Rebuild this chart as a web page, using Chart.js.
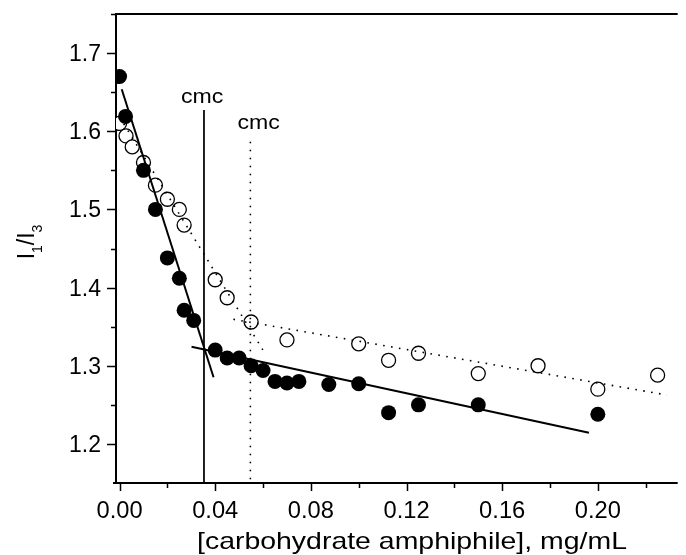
<!DOCTYPE html>
<html>
<head>
<meta charset="utf-8">
<title>I1/I3 vs carbohydrate amphiphile</title>
<script src="https://cdn.jsdelivr.net/npm/chart.js@4.4.0/dist/chart.umd.min.js"></script>
<style>
  html, body { margin: 0; padding: 0; background: #ffffff; }
  canvas { display: block; }
</style>
</head>
<body>
<canvas id="chart" width="686" height="555"></canvas>
<script>
// Pyrene I1/I3 ratio vs concentration (mg/mL)
const filledX = [0, 0.0025, 0.01, 0.015, 0.02, 0.025, 0.027, 0.031, 0.04, 0.045, 0.05, 0.055, 0.06,
                 0.065, 0.07, 0.075, 0.0875, 0.1, 0.1125, 0.125, 0.15, 0.2];
const filledY = [1.670, 1.619, 1.550, 1.500, 1.438, 1.412, 1.371, 1.358, 1.320, 1.310, 1.310, 1.300, 1.294,
                 1.280, 1.278, 1.280, 1.276, 1.277, 1.240, 1.250, 1.250, 1.238];

const openX = [0, 0.0027, 0.0053, 0.01, 0.015, 0.02, 0.025, 0.027, 0.04, 0.045, 0.055, 0.07,
               0.1, 0.1125, 0.125, 0.15, 0.175, 0.2, 0.225];
const openY = [1.610, 1.594, 1.580, 1.560, 1.531, 1.513, 1.500, 1.480, 1.410, 1.387, 1.356, 1.333,
               1.328, 1.307, 1.316, 1.290, 1.300, 1.270, 1.288];

// fitted straight lines (end points)
const filledSteepX = [0.0009, 0.0393];
const filledSteepY = [1.6537, 1.2852];
const filledFlatX = [0.0301, 0.1963];
const filledFlatY = [1.3244, 1.2143];
const openSteepX = [0, 0.0599];
const openSteepY = [1.6183, 1.3204];
const openFlatX = [0.0476, 0.2289];
const openFlatY = [1.3594, 1.2626];

// cmc markers
const cmcX = [0.0353, 0.0547];
const cmcTop = [1.6272, 1.5866];
const cmcLabelX = [0.0345, 0.0582];
const cmcLabelY = [1.6361, 1.6029];

// axes
const xMin = -0.00107, xMax = 0.2334;
const yMin = 1.15, yMax = 1.75;
const xTickValues = [0, 0.04, 0.08, 0.12, 0.16, 0.20];
const xTickLabels = ['0.00', '0.04', '0.08', '0.12', '0.16', '0.20'];
const xMinorValues = [0.02, 0.06, 0.10, 0.14, 0.18, 0.22];
const yTickValues = [1.2, 1.3, 1.4, 1.5, 1.6, 1.7];
const yTickLabels = ['1.2', '1.3', '1.4', '1.5', '1.6', '1.7'];
const yMinorValues = [1.25, 1.35, 1.45, 1.55, 1.65, 1.75];

const FONT = '"Liberation Sans", Arial, sans-serif';

function pts(xs, ys) {
    return xs.map((x, i) => ({ x: x, y: ys[i] }));
}

function lineSet(xs, ys, width, dash) {
    return {
        type: 'scatter',
        data: pts(xs, ys),
        showLine: true,
        borderColor: '#000',
        borderWidth: width,
        borderDash: dash || [],
        borderCapStyle: 'butt',
        pointRadius: 0,
        order: 0
    };
}

function stretchedText(ctx, str, x, y, align, sx) {
    ctx.save();
    ctx.translate(x, y);
    ctx.scale(sx, 1);
    ctx.textAlign = align;
    ctx.fillText(str, 0, 0);
    ctx.restore();
}

// axes, frame and ticks drawn under the markers
const framePlugin = {
    id: 'frame',
    beforeDatasetsDraw(chart) {
        const ctx = chart.ctx;
        const a = chart.chartArea;
        const xs = chart.scales.x, ys = chart.scales.y;
        ctx.save();
        ctx.strokeStyle = '#000';
        ctx.lineWidth = 2;
        ctx.beginPath();
        ctx.moveTo(a.left - 1, a.top - 1);
        ctx.lineTo(a.left - 1, a.bottom);
        ctx.moveTo(a.left - 4, a.bottom);
        ctx.lineTo(a.right, a.bottom);
        ctx.moveTo(a.left - 2, a.top);
        ctx.lineTo(a.right, a.top);
        ctx.stroke();

        ctx.lineWidth = 1.5;
        ctx.beginPath();
        xTickValues.forEach(v => {
            const px = Math.round(xs.getPixelForValue(v)) + 0.5;
            ctx.moveTo(px, a.bottom);
            ctx.lineTo(px, a.bottom + 8);
        });
        xMinorValues.forEach(v => {
            const px = Math.round(xs.getPixelForValue(v)) + 0.5;
            ctx.moveTo(px, a.bottom);
            ctx.lineTo(px, a.bottom + 5);
        });
        yTickValues.forEach(v => {
            const py = Math.round(ys.getPixelForValue(v)) + 0.5;
            ctx.moveTo(a.left - 1, py);
            ctx.lineTo(a.left - 10, py);
        });
        yMinorValues.forEach(v => {
            const py = Math.round(ys.getPixelForValue(v)) + 0.5;
            ctx.moveTo(a.left - 1, py);
            ctx.lineTo(a.left - 6, py);
        });
        ctx.stroke();
        ctx.restore();
    },
    afterDraw(chart) {
        const ctx = chart.ctx;
        const a = chart.chartArea;
        const xs = chart.scales.x, ys = chart.scales.y;
        ctx.save();
        ctx.fillStyle = '#000';
        ctx.textBaseline = 'alphabetic';

        // tick labels
        ctx.font = '23px ' + FONT;
        xTickValues.forEach((v, i) => {
            stretchedText(ctx, xTickLabels[i], xs.getPixelForValue(v), a.bottom + 35, 'center', 1.03);
        });
        yTickValues.forEach((v, i) => {
            stretchedText(ctx, yTickLabels[i], a.left - 16, ys.getPixelForValue(v) + 8, 'right', 1.0);
        });

        // x title
        ctx.font = '24px ' + FONT;
        stretchedText(ctx, '[carbohydrate amphiphile], mg/mL', 412, 549, 'center', 1.185);

        // y title I1/I3 with subscripts
        const parts = [['I', 0], ['1', 1], ['/', 0], ['I', 0], ['3', 1]];
        const big = '23px ' + FONT, small = '14px ' + FONT;
        let total = 0;
        parts.forEach(p => { ctx.font = p[1] ? small : big; total += ctx.measureText(p[0]).width; });
        ctx.translate(34, 242);
        ctx.rotate(-Math.PI / 2);
        ctx.textAlign = 'left';
        let cx = -total / 2;
        parts.forEach(p => {
            ctx.font = p[1] ? small : big;
            ctx.fillText(p[0], cx, p[1] ? 8 : 0);
            cx += ctx.measureText(p[0]).width;
        });
        ctx.setTransform(1, 0, 0, 1, 0, 0);

        // cmc labels
        ctx.font = '21px ' + FONT;
        cmcLabelX.forEach((v, i) => {
            stretchedText(ctx, 'cmc', xs.getPixelForValue(v), ys.getPixelForValue(cmcLabelY[i]), 'center', 1.1);
        });
        ctx.restore();
    }
};

document.addEventListener('DOMContentLoaded', function() {
    // markers are cut at the left axis, free elsewhere
    const markerClip = { left: 1, top: false, right: false, bottom: false };
    const datasets = [
        lineSet(filledSteepX, filledSteepY, 2),
        lineSet(filledFlatX, filledFlatY, 2),
        lineSet(openSteepX, openSteepY, 1.6, [1.6, 6.4]),
        lineSet(openFlatX, openFlatY, 1.6, [1.6, 6.4]),
        lineSet([cmcX[0], cmcX[0]], [cmcTop[0], yMin], 1),
        lineSet([cmcX[1], cmcX[1]], [cmcTop[1], yMin], 1.6, [1.6, 6.4]),
        {
            type: 'scatter',
            data: pts(filledX, filledY),
            pointRadius: 7.5,
            pointBackgroundColor: '#000',
            pointBorderWidth: 0,
            clip: markerClip,
            order: 1
        },
        {
            type: 'scatter',
            data: pts(openX, openY),
            pointRadius: 7,
            pointBackgroundColor: '#fff',
            pointBorderColor: '#000',
            pointBorderWidth: 1.3,
            clip: markerClip,
            order: 2
        }
    ];

    new Chart(document.getElementById('chart'), {
        type: 'scatter',
        data: { datasets: datasets },
        options: {
            responsive: false,
            animation: false,
            events: [],
            layout: { padding: { left: 117, right: 0, top: 14, bottom: 72 } },
            plugins: { legend: { display: false }, tooltip: { enabled: false } },
            scales: {
                x: { type: 'linear', min: xMin, max: xMax, display: false },
                y: { type: 'linear', min: yMin, max: yMax, display: false }
            }
        },
        plugins: [framePlugin]
    });
});
</script>
</body>
</html>
